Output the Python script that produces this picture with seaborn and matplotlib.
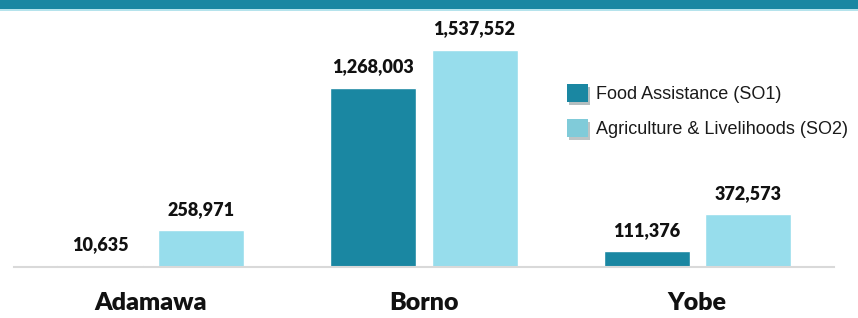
import matplotlib
matplotlib.use('Agg')
import matplotlib.pyplot as plt
import seaborn as sns
import pandas as pd
from matplotlib.patches import Rectangle
import matplotlib.patheffects as pe

# data
states = ['Adamawa', 'Borno', 'Yobe']
food_assistance = [10635, 1268003, 111376]
agri_livelihoods = [258971, 1537552, 372573]
series_names = ['Food Assistance (SO1)', 'Agriculture & Livelihoods (SO2)']

dark_teal = '#1a87a2'
light_teal = '#97ddec'
legend_light = '#80cbd9'

df = pd.DataFrame({
    'state': states * 2,
    'value': food_assistance + agri_livelihoods,
    'series': [series_names[0]] * 3 + [series_names[1]] * 3,
})

sns.set_theme(style='white')
plt.rcParams['font.family'] = ['Lato', 'DejaVu Sans']

fig = plt.figure(figsize=(8.58, 3.18), dpi=100)
ax = fig.add_axes([14 / 858, 51 / 318, 820 / 858, 247 / 318])

sns.barplot(data=df, x='state', y='value', hue='series',
            palette=[dark_teal, light_teal], width=0.74, gap=0.15,
            saturation=1, ax=ax, legend=False)

ax.set_xlim(-0.5, 2.5)
ax.set_ylim(0, 1.75e6)
ax.set_xlabel('')
ax.set_ylabel('')
ax.set_yticks([])
for side in ['top', 'right', 'left']:
    ax.spines[side].set_visible(False)
ax.spines['bottom'].set_color('#d9d9d9')
ax.spines['bottom'].set_linewidth(1.5)
ax.tick_params(axis='x', length=0, pad=18)
for lbl in ax.get_xticklabels():
    lbl.set_fontsize(18)
    lbl.set_fontweight('heavy')
    lbl.set_color('#111111')

# value labels
for container in ax.containers:
    ax.bar_label(container, labels=[f'{v:,.0f}' for v in container.datavalues],
                 padding=9, fontsize=13, fontweight='heavy', color='#111111')

# legend with shadowed squares
handles = [Rectangle((0, 0), 1, 1, facecolor=c, edgecolor='none',
                     path_effects=[pe.SimplePatchShadow(offset=(1.5, -2), alpha=0.3),
                                   pe.Normal()])
           for c in [dark_teal, legend_light]]
leg = fig.legend(handles, series_names, loc='upper left',
                 bbox_to_anchor=(567 / 858, 1 - 84 / 318),
                 bbox_transform=fig.transFigure, frameon=False,
                 borderaxespad=0, borderpad=0, handlelength=1.15, handleheight=1.15,
                 handletextpad=0.45, labelspacing=0.9,
                 prop={'family': 'Liberation Sans', 'size': 13})
for t in leg.get_texts():
    t.set_color('#1a1a1a')

# header band
fig.patches.append(Rectangle((0, 1 - 9 / 318), 1, 9 / 318, transform=fig.transFigure,
                             facecolor=dark_teal, edgecolor='none'))
fig.patches.append(Rectangle((0, 1 - 11 / 318), 1, 2 / 318, transform=fig.transFigure,
                             facecolor='#b5e3ec', edgecolor='none'))

fig.savefig('out.png', dpi=100)
